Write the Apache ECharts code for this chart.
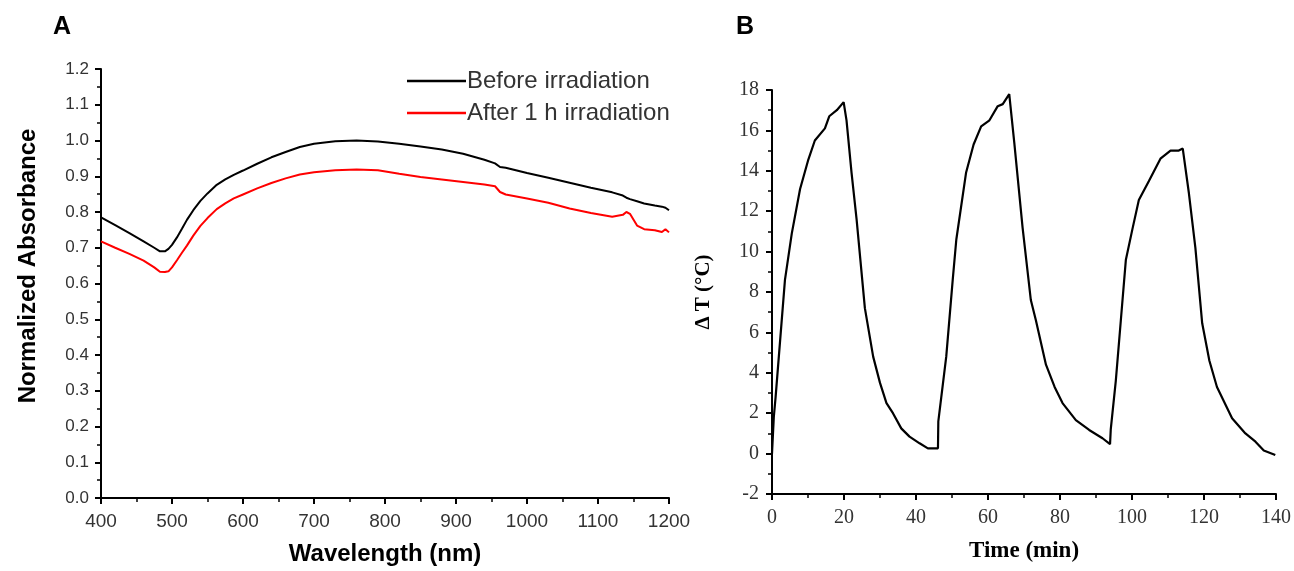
<!DOCTYPE html>
<html><head><meta charset="utf-8">
<script src="https://cdn.jsdelivr.net/npm/echarts@6/dist/echarts.min.js"></script>
<style>html,body{margin:0;padding:0;background:#fff}#c{width:1294px;height:571px}</style>
</head><body><div id="c"></div>
<script>
// Panel A: absorbance spectra
const wavelengths = [400,420,440,460,475,483,490,495,500,507,514,521,530,540,550,563,575,587,600,620,640,660,680,700,730,760,790,820,850,880,910,940,955,962,970,1000,1030,1060,1090,1120,1135,1140,1145,1155,1165,1180,1190,1195,1200];
const beforeIrr = [0.785,0.763,0.741,0.718,0.700,0.690,0.690,0.697,0.708,0.729,0.753,0.778,0.805,0.831,0.852,0.876,0.891,0.904,0.916,0.935,0.953,0.968,0.982,0.991,0.998,1.000,0.997,0.991,0.983,0.975,0.963,0.946,0.936,0.926,0.924,0.909,0.896,0.882,0.868,0.855,0.846,0.840,0.836,0.830,0.824,0.818,0.815,0.812,0.805];
const afterIrr = [0.718,0.700,0.683,0.664,0.645,0.633,0.632,0.634,0.645,0.665,0.686,0.706,0.734,0.761,0.783,0.808,0.824,0.838,0.849,0.866,0.881,0.894,0.905,0.911,0.917,0.919,0.917,0.907,0.898,0.891,0.884,0.877,0.872,0.856,0.849,0.838,0.826,0.810,0.797,0.787,0.792,0.800,0.795,0.762,0.752,0.749,0.744,0.752,0.743];
const seriesNamesA = ['Before irradiation','After 1 h irradiation'];
// Panel B: photothermal cycles
const timeMin = [0,0.5,1,3.6,5.5,7.8,10,11.9,14.7,15.9,18,19.9,20.7,22.1,23.5,25.8,28.1,30,31.8,33.6,35.9,38.2,41,43.3,46.1,46.2,48.4,50.2,51.2,53.9,56,58.1,60.4,62.7,64.1,65.9,67.3,69.6,71.9,73.3,76.1,78.5,80.7,84.4,88.1,91.8,93.9,94.1,95.5,96.9,98.3,100.1,101.9,104.7,107.9,110.7,113,114.1,115.8,117.6,119.5,121.5,123.6,127.8,131.5,134.3,136.6,139.8];
const deltaT = [0,1.8,2.8,8.6,10.9,13.1,14.5,15.5,16.1,16.7,17.0,17.4,16.5,13.9,11.6,7.2,4.8,3.5,2.5,2.0,1.25,0.84,0.51,0.26,0.26,1.6,4.8,8.6,10.6,13.9,15.3,16.2,16.5,17.2,17.3,17.8,15.4,11.2,7.6,6.6,4.4,3.3,2.5,1.66,1.17,0.76,0.47,1.2,3.6,6.6,9.6,11.1,12.55,13.5,14.6,15.0,15.0,15.1,12.9,10.2,6.45,4.6,3.3,1.75,1.0,0.59,0.15,-0.07];

const pairs = (xs, ys) => xs.map((x, i) => [x, ys[i]]);
const sans = 'Liberation Sans, Arial, sans-serif';
const serif = 'Liberation Serif, Times New Roman, serif';

function axisCommon(fontFamily, fontSize, margin) {
  return {
    axisLine: {show: true, onZero: false, lineStyle: {color: '#000', width: 2}},
    axisTick: {show: true, inside: false, length: 6, lineStyle: {color: '#000', width: 2}},
    minorTick: {show: true, splitNumber: 2, length: 4, lineStyle: {color: '#000', width: 1.5}},
    splitLine: {show: false},
    axisLabel: {color: '#333', fontFamily, fontSize, margin, formatter: v => String(v)}
  };
}

const chart = echarts.init(document.getElementById('c'), null, {renderer: 'canvas'});
chart.setOption({
  animation: false,
  backgroundColor: '#fff',
  graphic: [
    {type: 'text', left: 53, top: 15, style: {text: 'A', font: 'bold 25px ' + sans, fill: '#000'}},
    {type: 'text', left: 736, top: 15, style: {text: 'B', font: 'bold 25px ' + sans, fill: '#000'}},
    {type: 'text', x: 28, y: 266, rotation: Math.PI / 2,
      style: {text: 'Normalized Absorbance', font: 'bold 24px ' + sans, fill: '#000', align: 'center', verticalAlign: 'middle'}}
  ],
  legend: {
    data: seriesNamesA.map(n => ({name: n, icon: 'rect'})),
    orient: 'vertical', left: 402, top: 64, itemWidth: 59, itemHeight: 2.5, itemGap: 8,
    textStyle: {fontFamily: sans, fontSize: 24, color: '#333', padding: [0, 0, 0, -4]}
  },
  grid: [
    {left: 101, top: 69, right: 625, bottom: 71},
    {left: 772, top: 90, right: 16, bottom: 77}
  ],
  xAxis: [
    Object.assign(axisCommon(sans, 19, 14), {
      type: 'value', gridIndex: 0, min: 400, max: 1200, interval: 100,
      name: 'Wavelength (nm)', nameLocation: 'middle', nameGap: 44,
      nameTextStyle: {fontFamily: sans, fontSize: 24, fontWeight: 'bold', color: '#000'}
    }),
    Object.assign(axisCommon(serif, 20, 14), {
      type: 'value', gridIndex: 1, min: 0, max: 140, interval: 20,
      name: 'Time (min)', nameLocation: 'middle', nameGap: 46,
      nameTextStyle: {fontFamily: serif, fontSize: 23, fontWeight: 'bold', color: '#000'}
    })
  ],
  yAxis: [
    Object.assign(axisCommon(sans, 17, 12), {
      type: 'value', gridIndex: 0, min: 0, max: 1.2, interval: 0.1,
      axisLabel: {color: '#333', fontFamily: sans, fontSize: 17, margin: 12, formatter: v => v.toFixed(1)}
    }),
    Object.assign(axisCommon(serif, 20, 13), {
      type: 'value', gridIndex: 1, min: -2, max: 18, interval: 2,
      name: 'Δ T (°C)', nameLocation: 'middle', nameGap: 58,
      nameTextStyle: {fontFamily: serif, fontSize: 21, fontWeight: 'bold', color: '#000'}
    })
  ],
  series: [
    {name: seriesNamesA[0], type: 'line', xAxisIndex: 0, yAxisIndex: 0, data: pairs(wavelengths, beforeIrr),
      symbol: 'none', color: '#000', lineStyle: {color: '#000', width: 2}},
    {name: seriesNamesA[1], type: 'line', xAxisIndex: 0, yAxisIndex: 0, data: pairs(wavelengths, afterIrr),
      symbol: 'none', color: '#ff0000', lineStyle: {color: '#ff0000', width: 2}},
    {name: 'ΔT', type: 'line', xAxisIndex: 1, yAxisIndex: 1, data: pairs(timeMin, deltaT),
      symbol: 'none', color: '#000', lineStyle: {color: '#000', width: 2.2}}
  ]
});
</script>
</body></html>
